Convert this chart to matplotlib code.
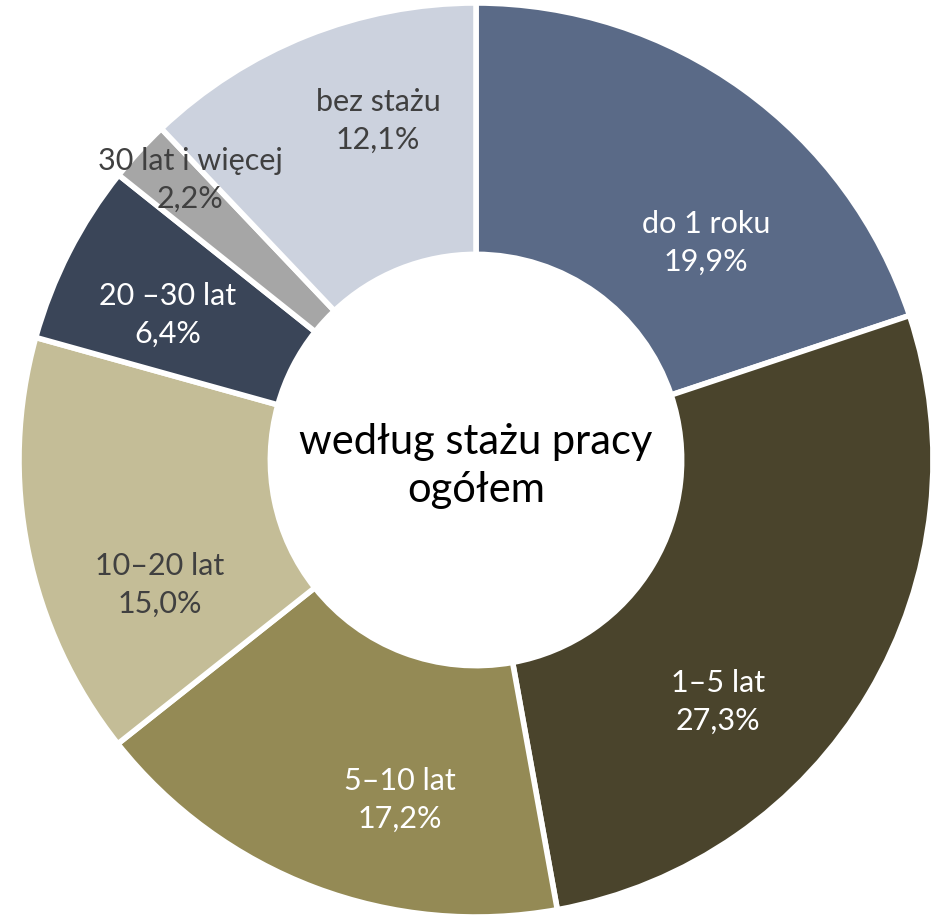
import matplotlib
matplotlib.use("Agg")
import matplotlib.pyplot as plt

# data
labels = ["do 1 roku", "1\u20135 lat", "5\u201310 lat", "10\u201320 lat",
          "20 \u201330 lat", "30 lat i wi\u0119cej", "bez sta\u017cu"]
values = [19.9, 27.3, 17.2, 15.0, 6.4, 2.2, 12.1]
colors = ["#5a6a87", "#4a442c", "#948a55", "#c4bd97",
          "#3a4558", "#a6a6a6", "#ccd2de"]
text_colors = ["white", "white", "white", "#404040",
               "white", "#404040", "#404040"]
# label positions (pixel offsets from centre, y up)
label_pos = [(230, 217), (242, -242), (-76, -340), (-316, -125),
             (-308, 145), (-286, 280), (-98, 339)]

plt.rcParams["font.family"] = ["Lato", "DejaVu Sans"]

fig = plt.figure(figsize=(9.32, 9.16), dpi=100)
ax = fig.add_axes([0, 0, 1, 1])
cx, cy = 476, 460
R = 457

ax.pie(values, colors=colors, startangle=90, counterclock=False,
       radius=R, center=(0, 0),
       wedgeprops=dict(width=R * 0.55, edgecolor="white", linewidth=4))

for lab, v, (dx, dy), tc in zip(labels, values, label_pos, text_colors):
    txt = f"{lab}\n{v:.1f}%".replace(".", ",")
    ax.text(dx, dy, txt, ha="center", va="center", fontsize=22,
            color=tc, linespacing=1.45)

ax.text(0, -6, "wed\u0142ug sta\u017cu pracy\nog\u00f3\u0142em", ha="center",
        va="center", fontsize=30, color="black", linespacing=1.35)

ax.set_xlim(-cx, 932 - cx)
ax.set_ylim(-(916 - cy), cy)
ax.set_aspect("auto")
ax.axis("off")

fig.savefig("out.png", dpi=100, facecolor="white")
